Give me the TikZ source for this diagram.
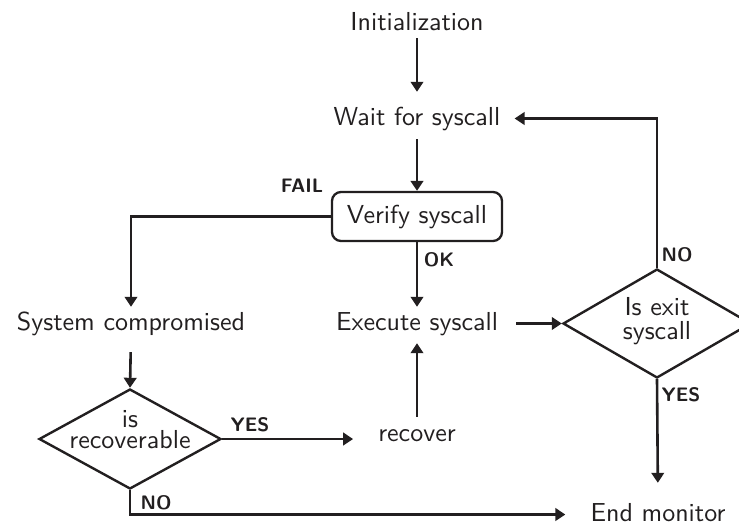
\documentclass[tikz,border=0pt]{standalone}
\usepackage{fontspec}
\setsansfont{lmsans10-regular.otf}[BoldFont=lmsans10-bold.otf]
\usetikzlibrary{arrows.meta,shapes.geometric}
\definecolor{ink}{RGB}{34,31,32}
\begin{document}
\begin{tikzpicture}[x=1pt,y=-1pt,
  font=\sffamily\fontsize{26}{31}\selectfont, color=ink,
  txt/.style={inner sep=0pt, text height=18pt, text depth=5pt},
  box/.style={draw, rounded corners=9pt, line width=2.3pt,
    minimum width=170pt, minimum height=49pt, inner sep=0pt},
  decision/.style={diamond, draw, line width=2.4pt, inner sep=0pt},
  flow/.style={line width=2.6pt, -{Triangle[length=10pt,width=12.5pt]}},
  tag/.style={font=\sffamily\bfseries\fontsize{19.5}{22}\selectfont, inner sep=0pt}
]
\useasboundingbox (0,0) rectangle (739,528);

% process steps
\node[txt] (init)    at (417,23.5)  {Initialization};
\node[txt] (wait)    at (417,118.5) {Wait for syscall};
\node[box] (verify)  at (417,216.5) {Verify syscall};
\node[txt] (exec)    at (417,323.5) {Execute syscall};
\node[txt] (comp)    at (131,323.5) {System compromised};
\node[txt] (recover) at (417,434.5) {recover};
\node[txt] (end)     at (658,514.5) {End monitor};

% decisions
\node[decision, minimum width=182pt, minimum height=100pt,
  label={[align=center,inner sep=0pt,yshift=9pt]center:is\\[-10pt]recoverable}] (rec) at (130,439) {};
\node[decision, minimum width=188pt, minimum height=109pt,
  label={[align=center,inner sep=0pt,yshift=2pt]center:Is exit\\[-7pt]syscall}] (exit) at (657,323.5) {};

% connectors
\draw[flow, shorten <=3pt, shorten >=15pt] (init.south) -- (wait.north);
\draw[flow, shorten <=9pt] (wait.south) -- (verify.north);
\draw[flow, shorten >=5pt] (verify.south) -- (exec.north);
\draw[flow, shorten >=5pt] (verify.west) -| (comp.north);
\draw[flow, shorten <=17pt] (comp.south) -- (rec.north);
\draw[flow, shorten <=18pt] (exec.east) -- (exit.west);
\draw[flow, shorten >=14pt] (exit.north) |- (wait.east);
\draw[flow, shorten >=20pt] (exit.south) -- (end.north);
\draw[flow, shorten <=6pt, shorten >=8pt] (recover.north) -- (exec.south);
\draw[flow, shorten >=25pt] (rec.east) -- (rec.east -| recover.west);
\draw[flow, shorten >=25pt] (rec.south) |- (end.west);

% branch tags
\node[tag] (fail)  at (302,186) {FAIL};
\node[tag] (ok)    at (439,260) {OK};
\node[tag] (no1)   at (677,255) {NO};
\node[tag] (yes1)  at (681,395) {YES};
\node[tag] (yes2)  at (250,425) {YES};
\node[tag] (no2)   at (156,503) {NO};
\end{tikzpicture}
\end{document}
